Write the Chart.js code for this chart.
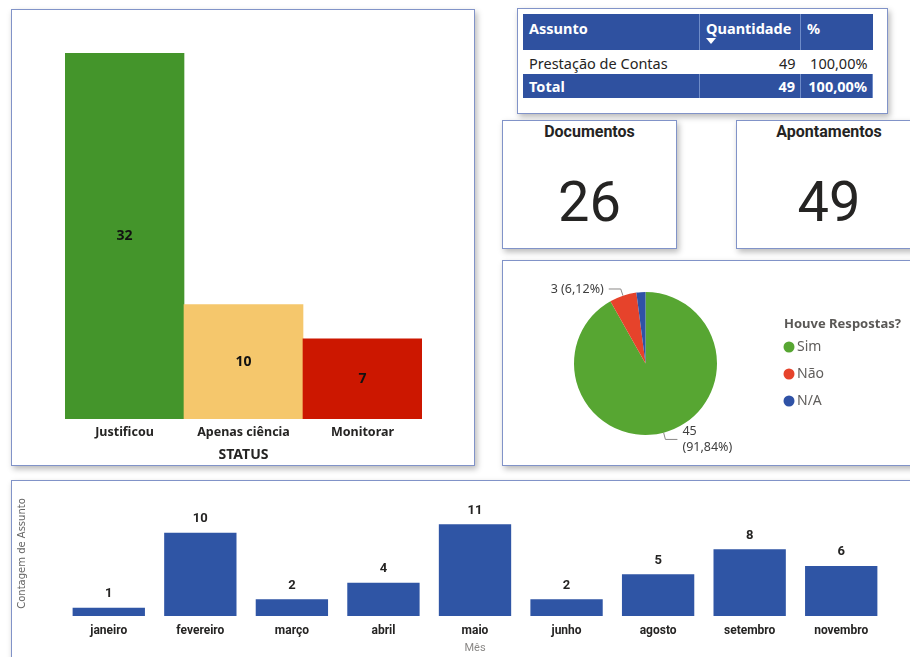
<!DOCTYPE html>
<html>
<head>
<meta charset="utf-8">
<script src="https://cdn.jsdelivr.net/npm/chart.js@4.4.1/dist/chart.umd.min.js"></script>
<style>
  body { margin: 0; width: 910px; height: 657px; background: #fff; position: relative; overflow: hidden; font-family: "Noto Sans", "Open Sans", sans-serif; color: #252423; }
  .panel { position: absolute; background: #fff; border: 1px solid #8193c8; box-sizing: border-box; box-shadow: 2px 3px 6px rgba(0,0,0,0.28); }
  canvas { position: absolute; left: 0; top: 0; }
  .card .title { position: absolute; left: 0; right: 0; top: 1px; text-align: center; font: bold 16px Roboto, sans-serif; color: #252423; }
  .card .value { position: absolute; left: 0; right: 0; top: 46px; text-align: center; font: 400 56px Roboto, sans-serif; color: #252423; line-height: 70px; }
  table { position: absolute; left: 5px; top: 5px; border-collapse: collapse; width: 350px; font-size: 14.5px; }
  th, td { padding: 0 5px 0 6px; white-space: nowrap; box-sizing: border-box; }
  th { background: #2f51a0; color: #fff; font-weight: bold; height: 36px; vertical-align: top; padding-top: 4px; text-align: left; border-right: 1px solid #6f8cc8; line-height: 20px; }
  th:last-child, td:last-child { border-right: none; }
  td { height: 24px; line-height: 20px; padding-top: 3px; padding-bottom: 1px; }
  .num { text-align: right; }
  tr.total td { background: #2f51a0; color: #fff; font-weight: bold; border-right: 1px solid #6f8cc8; padding-top: 2px; padding-bottom: 2px; }
  .arrow { display: block; width: 0; height: 0; border-left: 5px solid transparent; border-right: 5px solid transparent; border-top: 6px solid #fff; margin-top: 0; }
</style>
</head>
<body>

<div class="panel" style="left:11px;top:9px;width:464px;height:457px;">
  <canvas id="statusChart" width="462" height="455"></canvas>
</div>

<div class="panel" id="tablePanel" style="left:517px;top:8px;width:371px;height:106px;"></div>

<div class="panel card" id="cardDocs" style="left:502px;top:120px;width:175px;height:129px;"></div>
<div class="panel card" id="cardApont" style="left:736px;top:120px;width:186px;height:129px;"></div>

<div class="panel" style="left:502px;top:260px;width:420px;height:206px;">
  <canvas id="pieChart" width="418" height="204"></canvas>
</div>

<div class="panel" style="left:11px;top:480px;width:910px;height:190px;">
  <canvas id="mesChart" width="908" height="176"></canvas>
</div>

<script>
// Status
const statusLabels = ['Justificou', 'Apenas ciência', 'Monitorar'];
const statusValues = [32, 10, 7];
const statusColors = ['#44952b', '#f5c76c', '#cc1700'];

// Tabela
const assuntos = ['Prestação de Contas'];
const quantidades = [49];

// Cartões
const totalDocumentos = 26;
const totalApontamentos = 49;

// Houve Respostas?
const respostaLabels = ['Sim', 'Não', 'N/A'];
const respostaValues = [45, 3, 1];
const respostaColors = ['#57a632', '#e6432b', '#2f52a6'];

// Mês
const meses = ['janeiro', 'fevereiro', 'março', 'abril', 'maio', 'junho', 'agosto', 'setembro', 'novembro'];
const contagemMes = [1, 10, 2, 4, 11, 2, 5, 8, 6];

function pct(v, total) {
  return (v / total * 100).toFixed(2).replace('.', ',') + '%';
}

//Table
const totalQtd = quantidades.reduce((a, b) => a + b, 0);
let rows = '';
assuntos.forEach((a, i) => {
  rows += '<tr><td>' + a + '</td><td class="num">' + quantidades[i] + '</td><td class="num">' + pct(quantidades[i], totalQtd) + '</td></tr>';
});
document.getElementById('tablePanel').innerHTML =
  '<table><colgroup><col style="width:177px"><col style="width:101px"><col style="width:72px"></colgroup>' +
  '<tr><th>Assunto</th><th>Quantidade<span class="arrow"></span></th><th>%</th></tr>' + rows +
  '<tr class="total"><td>Total</td><td class="num">' + totalQtd + '</td><td class="num">' + pct(totalQtd, totalQtd) + '</td></tr></table>';

//Cards
document.getElementById('cardDocs').innerHTML = '<div class="title">Documentos</div><div class="value">' + totalDocumentos + '</div>';
document.getElementById('cardApont').innerHTML = '<div class="title">Apontamentos</div><div class="value">' + totalApontamentos + '</div>';

//Value labels on bars
const valueLabels = {
  id: 'valueLabels',
  afterDatasetsDraw(chart, args, opts) {
    const {ctx} = chart;
    const meta = chart.getDatasetMeta(0);
    const data = chart.data.datasets[0].data;
    ctx.save();
    ctx.font = opts.font;
    ctx.fillStyle = opts.color;
    ctx.textAlign = 'center';
    ctx.textBaseline = 'middle';
    meta.data.forEach((bar, i) => {
      const y = opts.anchor === 'center' ? (bar.y + bar.base) / 2 : bar.y - opts.offset;
      ctx.fillText(data[i], bar.x, y);
    });
    ctx.restore();
  }
};

//Pie labels with leader lines
const pieLabels = {
  id: 'pieLabels',
  afterDatasetsDraw(chart, args, opts) {
    const {ctx} = chart;
    const data = chart.data.datasets[0].data;
    const total = data.reduce((a, b) => a + b, 0);
    ctx.save();
    ctx.font = opts.font;
    ctx.fillStyle = opts.color;
    ctx.strokeStyle = opts.lineColor;
    ctx.lineWidth = 1;
    ctx.textBaseline = 'middle';
    chart.getDatasetMeta(0).data.forEach((arc, i) => {
      if (data[i] / total < 0.05) return;
      const a = (arc.startAngle + arc.endAngle) / 2;
      const r = arc.outerRadius;
      const ex = arc.x + Math.cos(a) * r, ey = arc.y + Math.sin(a) * r;
      const px = arc.x + Math.cos(a) * (r + 7), py = arc.y + Math.sin(a) * (r + 7);
      const right = Math.cos(a) > 0;
      const hx = px + (right ? 12 : -12);
      ctx.beginPath();
      ctx.moveTo(ex, ey);
      ctx.lineTo(px, py);
      ctx.lineTo(hx, py);
      ctx.stroke();
      const tx = hx + (right ? 5 : -5);
      ctx.textAlign = right ? 'left' : 'right';
      if (right) {
        ctx.fillText(String(data[i]), tx, py - 8);
        ctx.fillText('(' + pct(data[i], total) + ')', tx, py + 8);
      } else {
        ctx.fillText(data[i] + ' (' + pct(data[i], total) + ')', tx, py);
      }
    });
    ctx.restore();
  }
};

//Pie legend
const pieLegend = {
  id: 'pieLegend',
  afterDraw(chart, args, opts) {
    const {ctx} = chart;
    const ds = chart.data.datasets[0];
    ctx.save();
    ctx.textBaseline = 'middle';
    ctx.textAlign = 'left';
    ctx.fillStyle = opts.titleColor;
    ctx.font = opts.titleFont;
    ctx.fillText(opts.title, opts.x, opts.y);
    ctx.font = opts.font;
    chart.data.labels.forEach((lab, i) => {
      const y = opts.y + opts.firstGap + i * opts.spacing;
      ctx.fillStyle = ds.backgroundColor[i];
      ctx.beginPath();
      ctx.arc(opts.x + 5, y, 5.5, 0, Math.PI * 2);
      ctx.fill();
      ctx.fillStyle = opts.color;
      ctx.fillText(lab, opts.x + 13, y);
    });
    ctx.restore();
  }
};

//Status chart
new Chart('statusChart', {
  type: 'bar',
  data: {
    labels: statusLabels,
    datasets: [{
      data: statusValues,
      backgroundColor: statusColors,
      categoryPercentage: 1,
      barPercentage: 1
    }]
  },
  options: {
    responsive: false,
    animation: false,
    layout: { padding: { left: 53, right: 52, top: 43, bottom: 0 } },
    scales: {
      y: { display: false, min: 0, max: 32 },
      x: {
        grid: { display: false, drawTicks: false },
        border: { display: false },
        ticks: { color: '#252423', font: { family: 'Noto Sans', weight: 'bold', size: 12.5 }, padding: 6, maxRotation: 0 },
        title: { display: true, text: 'STATUS', color: '#252423', font: { family: 'Noto Sans', weight: 'bold', size: 14 }, padding: { top: 0, bottom: 2 } },
        afterFit(scale) { scale.height = 46; }
      }
    },
    plugins: {
      legend: { display: false },
      tooltip: { enabled: false },
      valueLabels: { anchor: 'center', font: 'bold 14px "Noto Sans"', color: '#111' }
    }
  },
  plugins: [valueLabels]
});

//Pie chart
new Chart('pieChart', {
  type: 'pie',
  data: {
    labels: respostaLabels,
    datasets: [{
      data: respostaValues,
      backgroundColor: respostaColors,
      borderWidth: 0
    }]
  },
  options: {
    responsive: false,
    animation: false,
    layout: { padding: { left: 71, right: 204, top: 31, bottom: 30 } },
    plugins: {
      legend: { display: false },
      tooltip: { enabled: false },
      pieLabels: { font: '12.5px "Noto Sans"', color: '#404040', lineColor: '#8a8886' },
      pieLegend: {
        title: 'Houve Respostas?', titleFont: 'bold 13px "Noto Sans"', titleColor: '#5a5856',
        font: '14px "Noto Sans"', color: '#605e5c',
        x: 281, y: 63, firstGap: 23, spacing: 27
      }
    }
  },
  plugins: [pieLabels, pieLegend]
});

//Month chart
new Chart('mesChart', {
  type: 'bar',
  data: {
    labels: meses,
    datasets: [{
      data: contagemMes,
      backgroundColor: '#2f55a5',
      categoryPercentage: 1,
      barPercentage: 0.79
    }]
  },
  options: {
    responsive: false,
    animation: false,
    layout: { padding: { left: 0, right: 33, top: 10, bottom: 0 } },
    scales: {
      y: {
        min: 0, max: 15,
        grid: { display: false },
        border: { display: false },
        ticks: { display: false },
        title: { display: true, text: 'Contagem de Assunto', color: '#666', font: { family: 'DejaVu Sans', size: 10 }, padding: 4 },
        afterFit(scale) { scale.width = 51; }
      },
      x: {
        grid: { display: false, drawTicks: false },
        border: { display: false },
        ticks: { color: '#252423', font: { family: 'Roboto', weight: 'bold', size: 12 }, padding: 8, maxRotation: 0 },
        title: { display: true, text: 'Mês', color: '#8a8886', font: { family: 'Roboto', size: 11 }, padding: { top: 0, bottom: 2 } },
        afterFit(scale) { scale.height = 41; }
      }
    },
    plugins: {
      legend: { display: false },
      tooltip: { enabled: false },
      valueLabels: { anchor: 'end', offset: 14, font: 'bold 13px Roboto', color: '#252423' }
    }
  },
  plugins: [valueLabels]
});
</script>
</body>
</html>
